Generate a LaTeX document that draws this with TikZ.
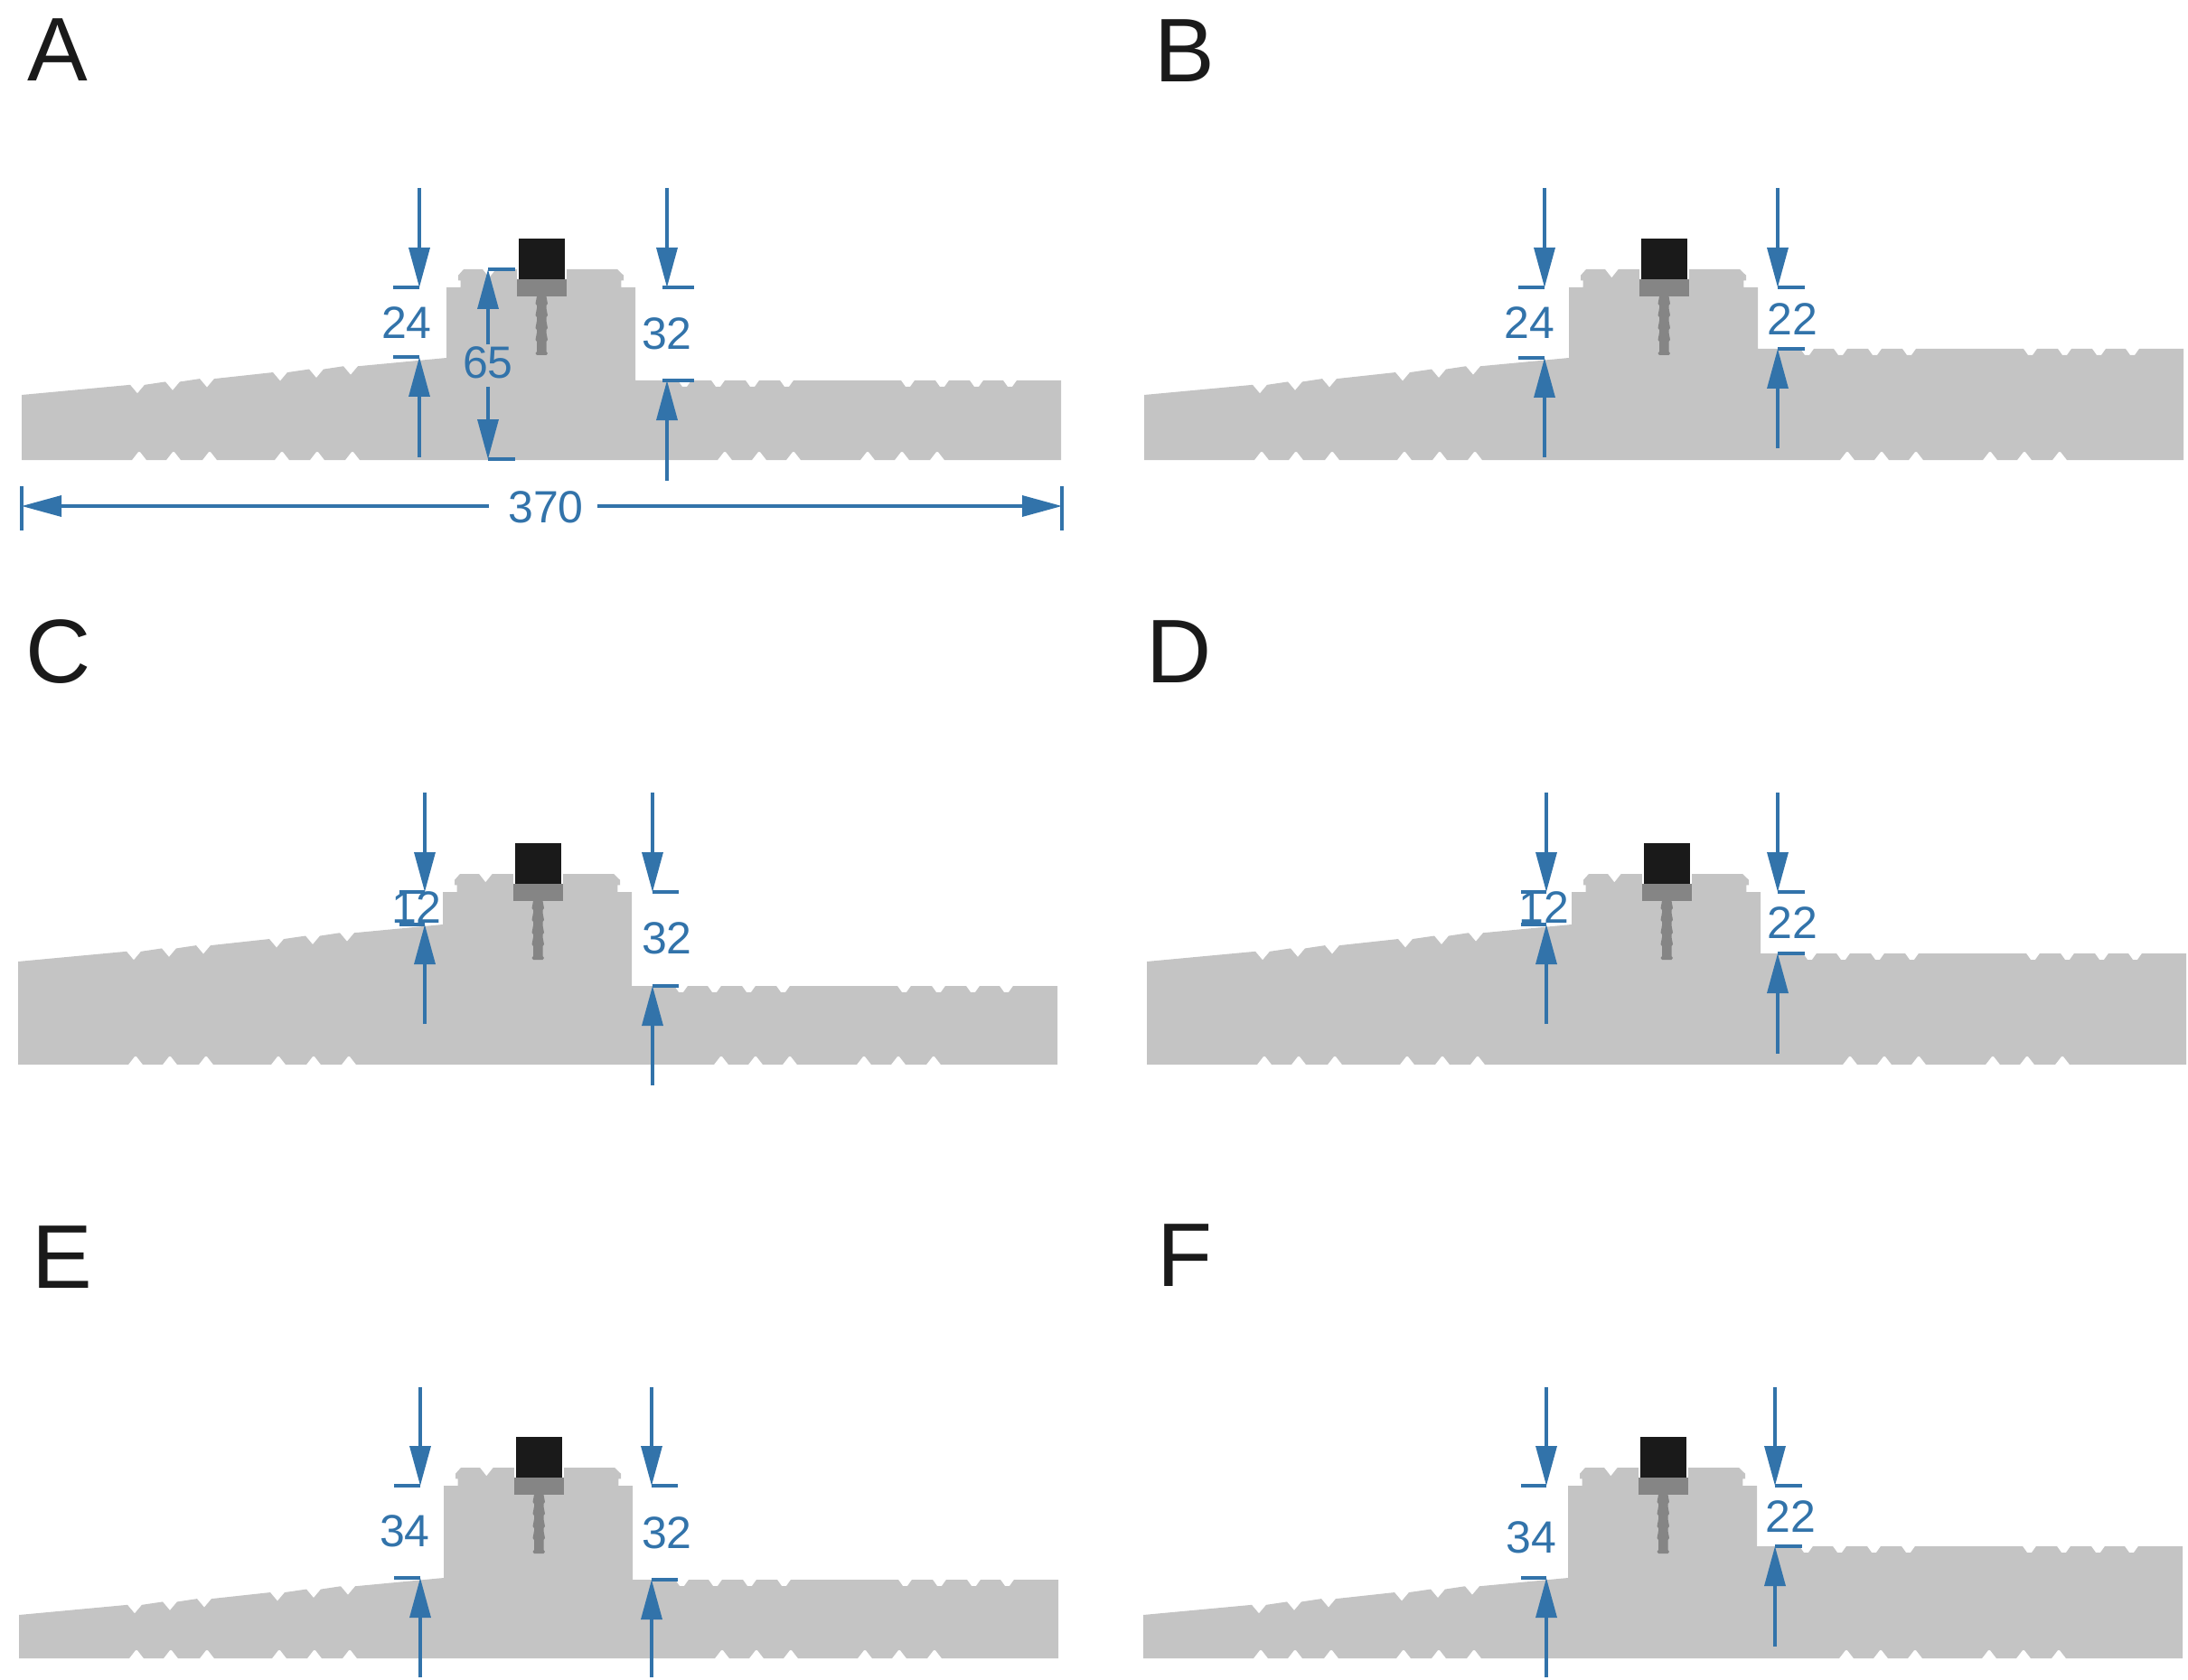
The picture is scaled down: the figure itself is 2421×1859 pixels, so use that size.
\documentclass[tikz,border=0pt]{standalone}
\usepackage{fontspec}
\setmainfont{Liberation Sans}
\usetikzlibrary{arrows.meta}

\definecolor{deckgrey}{HTML}{C4C4C4}
\definecolor{dimblue}{HTML}{3273AA}
\definecolor{washergrey}{HTML}{858585}
\definecolor{headblack}{HTML}{1A1A1A}

% #1 block left edge, #2 block top, #3 left deck drop, #4 right deck drop
\newcommand{\deckprofile}[4]{%
	\begin{scope}[shift={(#1,#2)}]
		\fill[deckgrey] (-470,{#3+41})
			\foreach \n in {-342,-303,-265,-184,-144,-106} {
				-- ({\n-8},{#3-\n*41/470}) -- (\n,{#3-\n*41/470+9.5}) -- ({\n+8},{#3-\n*41/470})
			}
			-- (0,#3) -- (0,0) -- (15.7,0) -- (15.7,-7.7) -- (13,-7.7) -- (13,-13.3) -- (19,-20) -- (40,-20) -- (47.3,-10.7) -- (54.7,-20)
			-- (189,-20) -- (196,-13.3) -- (196,-7.7) -- (193.3,-7.7) -- (193.3,0) -- (209,0) -- (209,#4)
			\foreach \n in {256,293,331,369,503,541,579,616} {
				-- (\n,#4) -- ({\n+5},{#4+7}) -- ({\n+10},{#4+7}) -- ({\n+15},#4)
			}
			-- (680,#4) -- (680,191)
			\foreach \n in {543,504,466,384,346,308,-104,-143,-182,-262,-302,-340} {
				-- ({\n+8},191) -- ({\n+1},182) -- ({\n-1},182) -- ({\n-8},191)
			}
			-- (-470,191) -- cycle;
		\fill[white] (77.5,-21) rectangle (133,-9);
		\fill[washergrey] (100,10)
			\foreach \t in {18,31,45,58} {
				-- (100,{\t-8}) -- (98.5,\t) -- (100,{\t+2})
			}
			-- (100,71) -- (98.5,73) -- (100,75) -- (110.5,75) -- (112,73) -- (110.5,71)
			\foreach \t in {58,45,31,18} {
				-- (110.5,{\t+2}) -- (112,\t) -- (110.5,{\t-8})
			}
			-- (110.5,10) -- cycle;
		\fill[washergrey] (77.5,-9) rectangle (133,10);
		\fill[headblack] (80,-54) rectangle (130.5,-9);
	\end{scope}
}

% #1 name, #2 x, #3 free end above, #4 upper tick, #5 lower tick, #6 free end below, #7 tick length
\newcommand{\dimpair}[7]{%
	\coordinate (#1_a) at (#2,#3);
	\coordinate (#1_up) at (#2,#4);
	\coordinate (#1_lo) at (#2,#5);
	\coordinate (#1_b) at (#2,#6);
	\draw[dimline,->] (#1_a) -- (#1_up);
	\draw[dimline,->] (#1_b) -- (#1_lo);
	\draw[dimline] (#1_up) -- +(#7,0);
	\draw[dimline] (#1_lo) -- +(#7,0);
}

\begin{document}
\begin{tikzpicture}[x=1pt,y=-1pt,>={Triangle[length=44pt,width=23pt]},
	dimline/.style={draw=dimblue,line width=3.4pt,color=dimblue},
	dimlabel/.style={text=dimblue,inner sep=0pt,font=\fontsize{50}{50}\selectfont},
	panelletter/.style={text=headblack,inner sep=0pt,font=\fontsize{100}{100}\selectfont}]
	\useasboundingbox (0,0) rectangle (2421,1859);

	\deckprofile{494}{318}{78}{103}
	\deckprofile{1736}{318}{78}{68}
	\deckprofile{490}{987}{36}{104}
	\deckprofile{1739}{987}{36}{68}
	\deckprofile{491}{1644}{102}{104}
	\deckprofile{1735}{1644}{102}{67}

	\node [panelletter] (lett_a) at (63.5,55) {A};
	\node [panelletter] (lett_b) at (1311,56) {B};
	\node [panelletter] (lett_c) at (65,721) {C};
	\node [panelletter] (lett_d) at (1305,721) {D};
	\node [panelletter] (lett_e) at (69,1391) {E};
	\node [panelletter] (lett_f) at (1311,1389) {F};

	% panel A
	\dimpair{a_l}{464}{208}{318}{395}{506}{-29}
	\dimpair{a_r}{738}{208}{318}{421}{532}{30}
	\draw[dimline] (a_r_up) -- +(-5,0);
	\draw[dimline] (a_r_lo) -- +(-5,0);
	\node [dimlabel] (a_l_txt) at (450,357) {24};
	\node [dimlabel] (a_r_txt) at (738,369) {32};

	\coordinate (a_h_up) at (540,298);
	\coordinate (a_h_lo) at (540,508);
	\node [dimlabel] (a_h_txt) at (540,401) {65};
	\draw[dimline,->] (a_h_txt.north) ++(0,-2) -- (a_h_up);
	\draw[dimline,->] (a_h_txt.south) ++(0,9) -- (a_h_lo);
	\draw[dimline] (a_h_up) -- +(30,0);
	\draw[dimline] (a_h_lo) -- +(30,0);

	\node [dimlabel] (a_w_txt) at (604,561) {370};
	\coordinate (a_w_l) at (24,560);
	\coordinate (a_w_r) at (1175,560);
	\draw[dimline,->] (541,560) -- (a_w_l);
	\draw[dimline,->] (661,560) -- (a_w_r);
	\draw[dimline] (24,538) -- (24,587);
	\draw[dimline] (1175,538) -- (1175,587);

	% panel B
	\dimpair{b_l}{1709}{208}{318}{396}{506}{-29}
	\dimpair{b_r}{1967}{208}{318}{386}{496}{30}
	\node [dimlabel] (b_l_txt) at (1692,357) {24};
	\node [dimlabel] (b_r_txt) at (1983,353) {22};

	% panel C
	\dimpair{c_l}{470}{877}{987}{1023}{1133}{-28}
	\dimpair{c_r}{722}{877}{987}{1091}{1201}{29}
	\node [dimlabel] (c_l_txt) at (461,1004) {12};
	\node [dimlabel] (c_r_txt) at (738,1038) {32};

	% panel D
	\dimpair{d_l}{1711}{877}{987}{1023}{1133}{-28}
	\dimpair{d_r}{1967}{877}{987}{1055}{1166}{30}
	\node [dimlabel] (d_l_txt) at (1708,1004) {12};
	\node [dimlabel] (d_r_txt) at (1983,1021) {22};

	% panel E
	\dimpair{e_l}{465}{1535}{1644}{1746}{1856}{-29}
	\dimpair{e_r}{721}{1535}{1644}{1748}{1856}{29}
	\node [dimlabel] (e_l_txt) at (448,1694) {34};
	\node [dimlabel] (e_r_txt) at (738,1696) {32};

	% panel F
	\dimpair{f_l}{1711}{1535}{1644}{1746}{1856}{-28}
	\dimpair{f_r}{1964}{1535}{1644}{1711}{1822}{30}
	\node [dimlabel] (f_l_txt) at (1694,1701) {34};
	\node [dimlabel] (f_r_txt) at (1981,1678) {22};
\end{tikzpicture}
\end{document}
